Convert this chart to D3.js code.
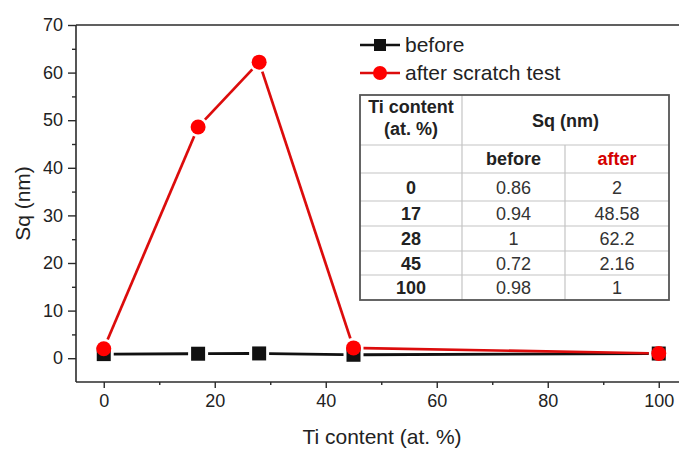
<!DOCTYPE html>
<html>
<head>
<meta charset="utf-8">
<script src="https://cdn.jsdelivr.net/npm/d3@7"></script>
<style>
  html, body { margin: 0; padding: 0; background: #fff; }
  svg { display: block; font-family: Arial, "Liberation Sans", sans-serif; }
</style>
</head>
<body>
<svg id="chart" width="679" height="449"></svg>
<script>
// Surface roughness Sq versus Ti content, before and after the scratch test
const tiContent = [0, 17, 28, 45, 100];
const sqBefore = [0.86, 0.94, 1, 0.72, 0.98];
const sqAfter = [2, 48.58, 62.2, 2.16, 1];
const seriesNames = ["before", "after scratch test"];
const xTicks = [0, 20, 40, 60, 80, 100];
const yTicks = [0, 10, 20, 30, 40, 50, 60, 70];

const svg = d3.select("#chart");
const x = d3.scaleLinear().domain([-5, 105]).range([76, 686.5]);
const y = d3.scaleLinear().domain([-5, 70]).range([382, 25]);

const axisColor = "#2b2b2b";
const black = "#111";
const redLine = "#dc0c0c";
const redMark = "#ff0000";

// Bottom axis with outward major/minor ticks
const xAxis = d3.axisBottom(x).tickValues(xTicks).tickSize(6).tickSizeOuter(0).tickPadding(6);
const gx = svg.append("g").attr("transform", `translate(0,${y(-5)})`).call(xAxis);
gx.select(".domain").remove();
gx.selectAll(".tick line").attr("stroke", axisColor).attr("stroke-width", 1.4);
gx.selectAll(".tick text").attr("font-size", 18).attr("fill", "#222")
  .attr("font-family", "Arial, 'Liberation Sans', sans-serif");
const xMinor = d3.axisBottom(x).tickValues([10, 30, 50, 70, 90]).tickSize(3).tickFormat("");
const gxm = svg.append("g").attr("transform", `translate(0,${y(-5)})`).call(xMinor);
gxm.select(".domain").remove();
gxm.selectAll(".tick line").attr("stroke", axisColor).attr("stroke-width", 1.4);

// Left axis
const yAxis = d3.axisLeft(y).tickValues(yTicks).tickSize(8).tickSizeOuter(0).tickPadding(5);
const gy = svg.append("g").attr("transform", `translate(${x(-5)},0)`).call(yAxis);
gy.select(".domain").remove();
gy.selectAll(".tick line").attr("stroke", axisColor).attr("stroke-width", 1.4);
gy.selectAll(".tick text").attr("font-size", 18).attr("fill", "#222")
  .attr("font-family", "Arial, 'Liberation Sans', sans-serif");
const yMinor = d3.axisLeft(y).tickValues([5, 15, 25, 35, 45, 55, 65]).tickSize(4).tickFormat("");
const gym = svg.append("g").attr("transform", `translate(${x(-5)},0)`).call(yMinor);
gym.select(".domain").remove();
gym.selectAll(".tick line").attr("stroke", axisColor).attr("stroke-width", 1.4);

// Frame lines: left, bottom, top
svg.append("line").attr("x1", x(-5)).attr("x2", x(-5)).attr("y1", y(70)).attr("y2", y(-5))
  .attr("stroke", axisColor).attr("stroke-width", 1.6);
svg.append("line").attr("x1", x(-5)).attr("x2", x(105)).attr("y1", y(-5)).attr("y2", y(-5))
  .attr("stroke", axisColor).attr("stroke-width", 1.6);
svg.append("line").attr("x1", x(-5)).attr("x2", x(105)).attr("y1", y(70)).attr("y2", y(70))
  .attr("stroke", axisColor).attr("stroke-width", 1.6);

// Axis titles
svg.append("text").attr("x", (x(-5) + 696) / 2 - 4).attr("y", 444)
  .attr("text-anchor", "middle").attr("font-size", 21).attr("fill", "#222")
  .text("Ti content (at. %)");
svg.append("text").attr("transform", `translate(30,${y(32.5)}) rotate(-90)`)
  .attr("text-anchor", "middle").attr("font-size", 21).attr("fill", "#222")
  .text("Sq (nm)");

// Series lines drawn as segments that stop short of each marker
function gappedSegments(vals, gap) {
  const pts = tiContent.map((t, i) => [x(t), y(vals[i])]);
  const segs = [];
  for (let i = 0; i < pts.length - 1; i++) {
    const [x1, y1] = pts[i], [x2, y2] = pts[i + 1];
    const dx = x2 - x1, dy = y2 - y1, len = Math.hypot(dx, dy);
    if (len <= 2 * gap) continue;
    const ux = dx / len, uy = dy / len;
    segs.push([x1 + ux * gap, y1 + uy * gap, x2 - ux * gap, y2 - uy * gap]);
  }
  return segs;
}

svg.append("g").selectAll("line").data(gappedSegments(sqBefore, 10)).join("line")
  .attr("x1", d => d[0]).attr("y1", d => d[1]).attr("x2", d => d[2]).attr("y2", d => d[3])
  .attr("stroke", black).attr("stroke-width", 2.8);

svg.append("g").selectAll("rect").data(tiContent).join("rect")
  .attr("x", (d) => x(d) - 7).attr("y", (d, i) => y(sqBefore[i]) - 7)
  .attr("width", 14).attr("height", 14).attr("fill", black);

svg.append("g").selectAll("line").data(gappedSegments(sqAfter, 10)).join("line")
  .attr("x1", d => d[0]).attr("y1", d => d[1]).attr("x2", d => d[2]).attr("y2", d => d[3])
  .attr("stroke", redLine).attr("stroke-width", 2.7);

svg.append("g").selectAll("circle").data(tiContent).join("circle")
  .attr("cx", d => x(d)).attr("cy", (d, i) => y(sqAfter[i]))
  .attr("r", 7.5).attr("fill", redMark);

// Legend
const lg = svg.append("g");
lg.append("line").attr("x1", 360).attr("x2", 400).attr("y1", 45).attr("y2", 45)
  .attr("stroke", black).attr("stroke-width", 2.6);
lg.append("rect").attr("x", 374).attr("y", 39).attr("width", 12).attr("height", 12).attr("fill", black);
lg.append("text").attr("x", 405).attr("y", 52).attr("font-size", 21).attr("fill", "#222").text(seriesNames[0]);
lg.append("line").attr("x1", 360).attr("x2", 400).attr("y1", 73).attr("y2", 73)
  .attr("stroke", redLine).attr("stroke-width", 2.6);
lg.append("circle").attr("cx", 380).attr("cy", 73).attr("r", 7).attr("fill", redMark);
lg.append("text").attr("x", 405).attr("y", 80).attr("font-size", 21).attr("fill", "#222").text(seriesNames[1]);

// Value table
const colX = [360, 462, 565, 669];
const rowY = [95, 145, 173, 201, 226, 251, 275, 300];
const tg = svg.append("g");
tg.append("rect").attr("x", colX[0]).attr("y", rowY[0])
  .attr("width", colX[3] - colX[0]).attr("height", rowY[7] - rowY[0])
  .attr("fill", "#fff").attr("stroke", "none");
// inner grid
const gridColor = "#c4c4c4";
rowY.slice(1, 7).forEach(ry => {
  tg.append("line").attr("x1", colX[0]).attr("x2", colX[3]).attr("y1", ry).attr("y2", ry)
    .attr("stroke", gridColor).attr("stroke-width", 1.2);
});
tg.append("line").attr("x1", colX[1]).attr("x2", colX[1]).attr("y1", rowY[0]).attr("y2", rowY[7])
  .attr("stroke", gridColor).attr("stroke-width", 1.2);
tg.append("line").attr("x1", colX[2]).attr("x2", colX[2]).attr("y1", rowY[1]).attr("y2", rowY[7])
  .attr("stroke", gridColor).attr("stroke-width", 1.2);
tg.append("rect").attr("x", colX[0]).attr("y", rowY[0])
  .attr("width", colX[3] - colX[0]).attr("height", rowY[7] - rowY[0])
  .attr("fill", "none").attr("stroke", "#555").attr("stroke-width", 1.8);

const c1 = (colX[0] + colX[1]) / 2, c2 = (colX[1] + colX[2]) / 2, c3 = (colX[2] + colX[3]) / 2;
function cellText(cx, by, txt, opts = {}) {
  tg.append("text").attr("x", cx).attr("y", by).attr("text-anchor", "middle")
    .attr("font-size", opts.size || 18).attr("font-weight", opts.bold ? "bold" : "normal")
    .attr("fill", opts.color || "#222").text(txt);
}
cellText(c1, 113, "Ti content", { bold: true });
cellText(c1, 135, "(at. %)", { bold: true });
cellText((colX[1] + colX[3]) / 2, 127, "Sq (nm)", { bold: true });
cellText(c2, 165, "before", { bold: true });
cellText(c3, 165, "after", { bold: true, color: "#d40000" });
tiContent.forEach((t, i) => {
  const by = (rowY[i + 2] + rowY[i + 3]) / 2 + 6.5;
  cellText(c1, by, String(t), { bold: true });
  cellText(c2, by, String(sqBefore[i]), { color: "#333" });
  cellText(c3, by, String(sqAfter[i]), { color: "#333" });
});
</script>
</body>
</html>
